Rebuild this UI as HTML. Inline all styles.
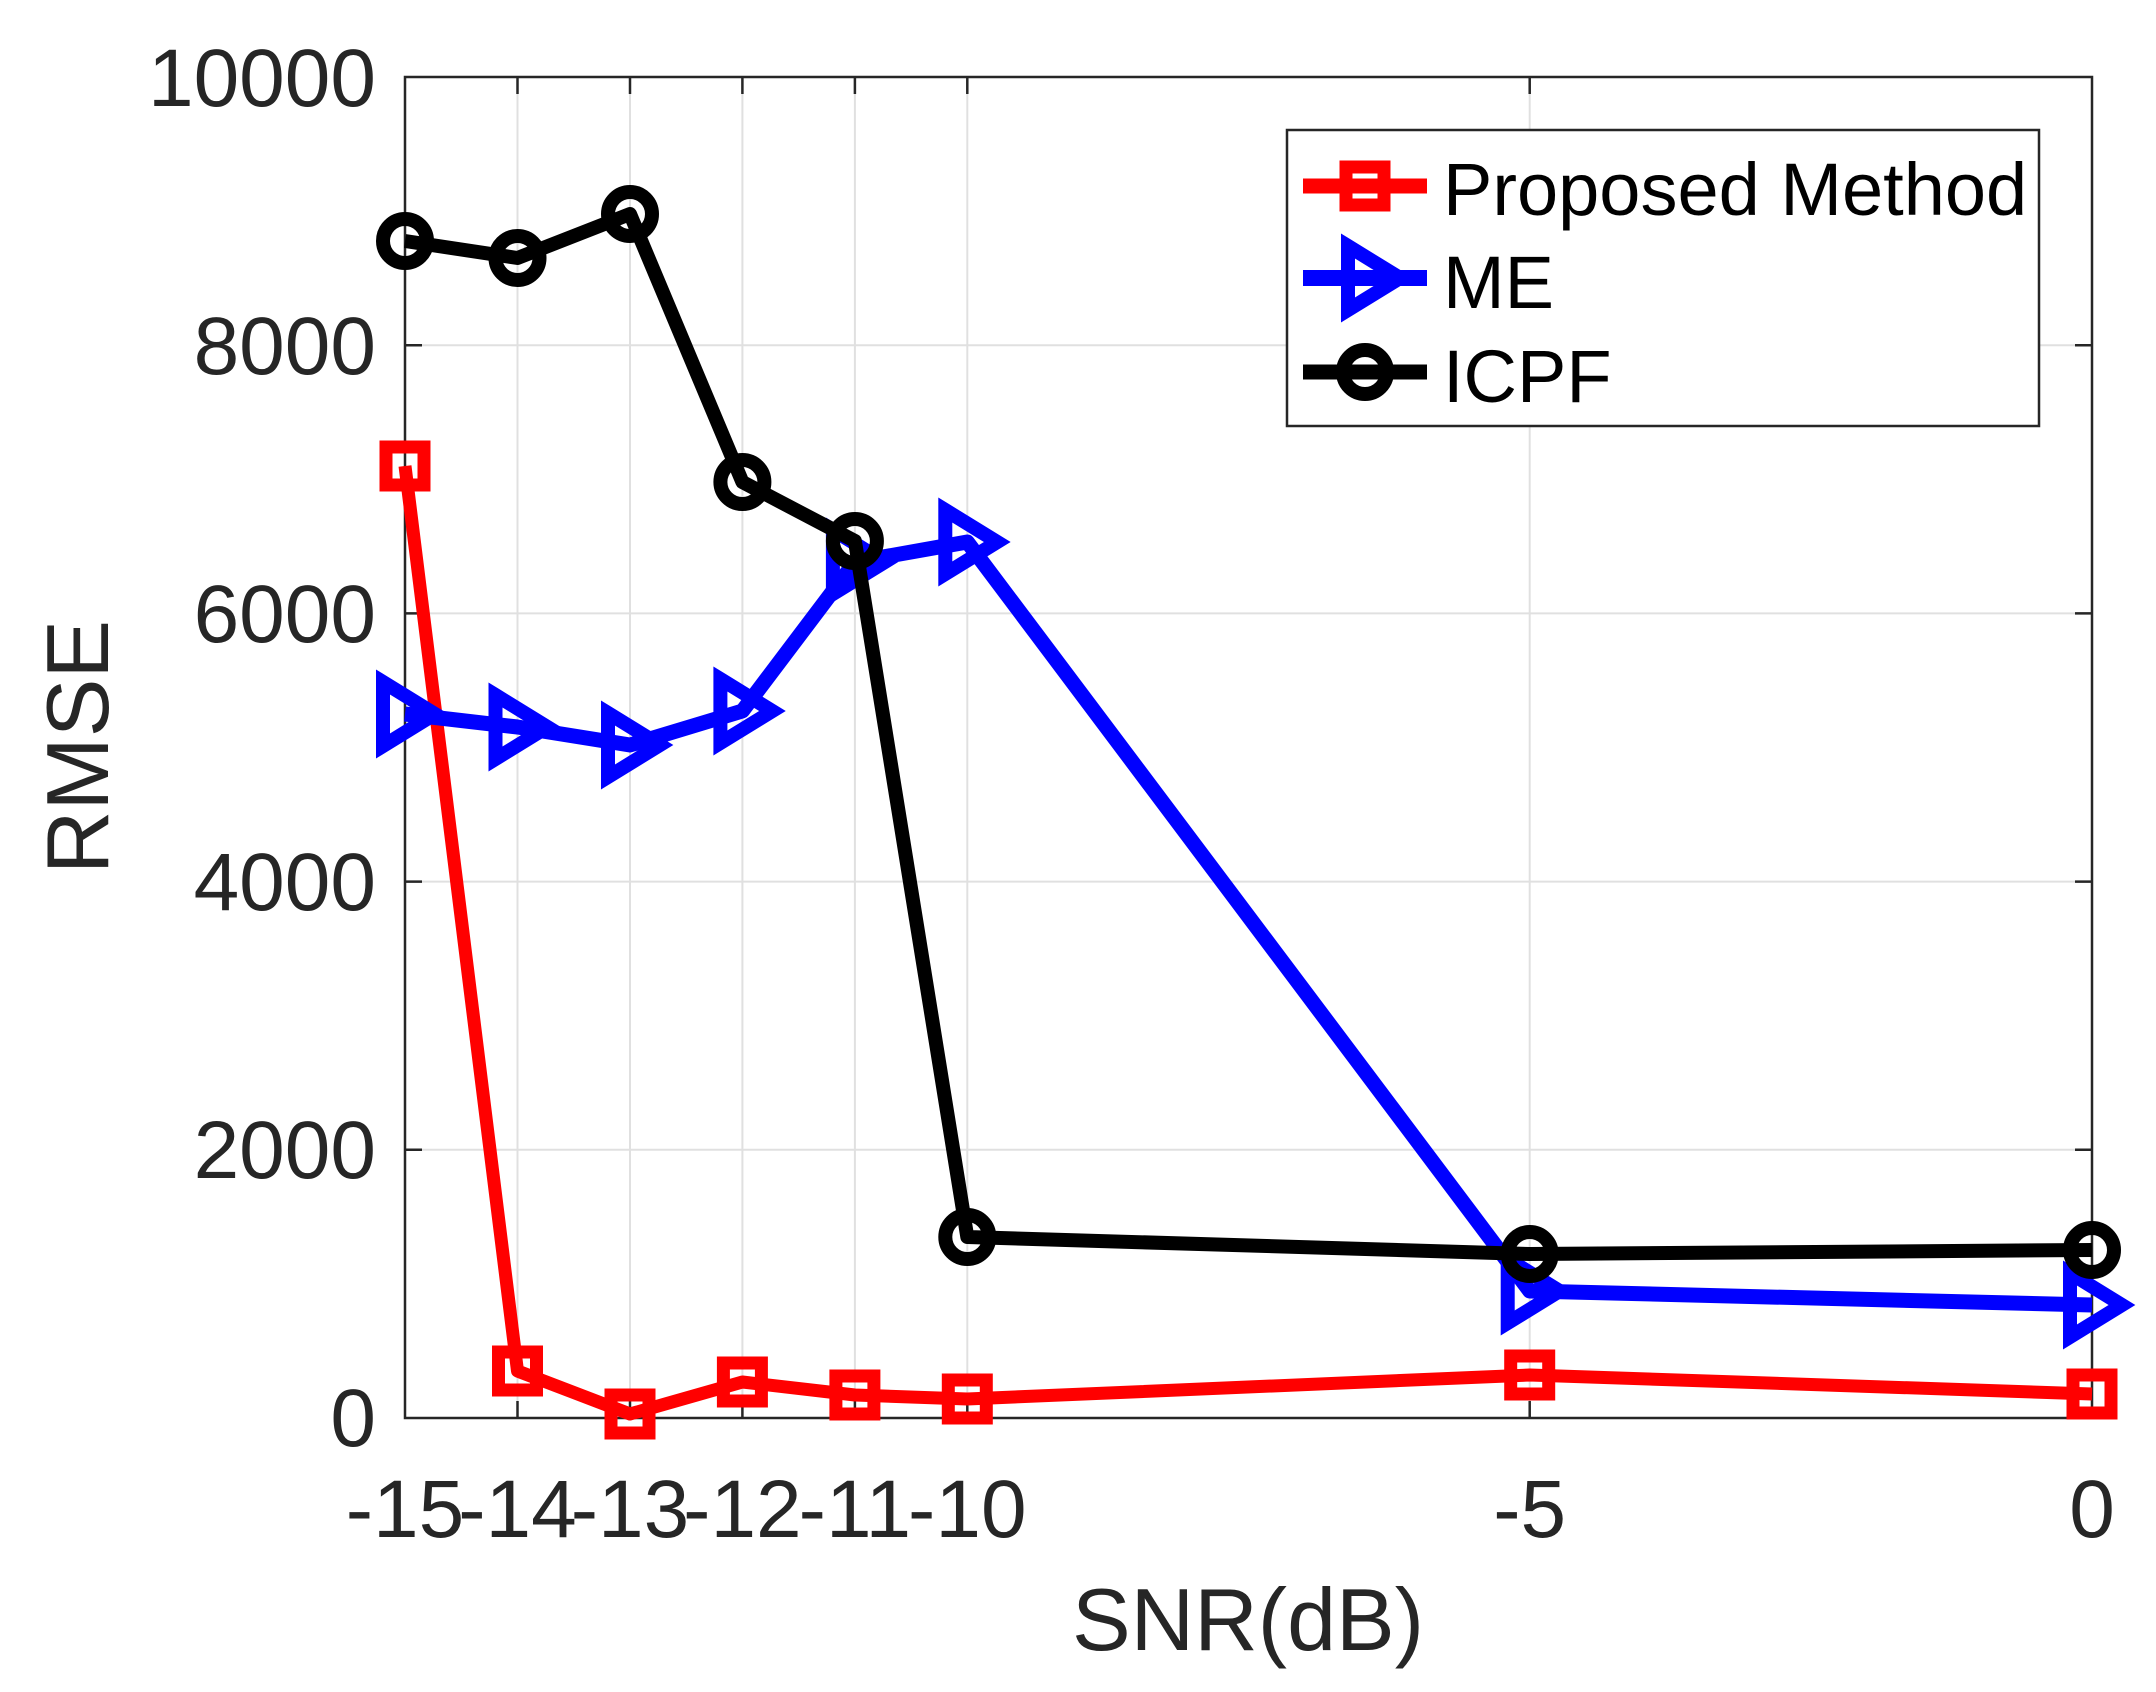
<!DOCTYPE html>
<html><head><meta charset="utf-8"><style>
html,body{margin:0;padding:0;background:#fff;}
svg{display:block;font-family:"Liberation Sans",Arial,sans-serif;}
</style></head><body>
<svg width="2156" height="1692" viewBox="0 0 2156 1692" xmlns="http://www.w3.org/2000/svg">
<rect width="2156" height="1692" fill="#fff"/>
<g stroke="#e0e0e0" stroke-width="2">
<line x1="517.5" y1="77" x2="517.5" y2="1418"/>
<line x1="630" y1="77" x2="630" y2="1418"/>
<line x1="742.4" y1="77" x2="742.4" y2="1418"/>
<line x1="854.9" y1="77" x2="854.9" y2="1418"/>
<line x1="967.3" y1="77" x2="967.3" y2="1418"/>
<line x1="1529.7" y1="77" x2="1529.7" y2="1418"/>
<line x1="405" y1="345.2" x2="2092" y2="345.2"/>
<line x1="405" y1="613.4" x2="2092" y2="613.4"/>
<line x1="405" y1="881.6" x2="2092" y2="881.6"/>
<line x1="405" y1="1149.8" x2="2092" y2="1149.8"/>
</g>
<rect x="405" y="77" width="1687" height="1341" fill="none" stroke="#262626" stroke-width="2.5"/>
<g stroke="#262626" stroke-width="2.5">
<line x1="517.5" y1="1418" x2="517.5" y2="1401"/><line x1="517.5" y1="77" x2="517.5" y2="94"/>
<line x1="630" y1="1418" x2="630" y2="1401"/><line x1="630" y1="77" x2="630" y2="94"/>
<line x1="742.4" y1="1418" x2="742.4" y2="1401"/><line x1="742.4" y1="77" x2="742.4" y2="94"/>
<line x1="854.9" y1="1418" x2="854.9" y2="1401"/><line x1="854.9" y1="77" x2="854.9" y2="94"/>
<line x1="967.3" y1="1418" x2="967.3" y2="1401"/><line x1="967.3" y1="77" x2="967.3" y2="94"/>
<line x1="1529.7" y1="1418" x2="1529.7" y2="1401"/><line x1="1529.7" y1="77" x2="1529.7" y2="94"/>
<line x1="405" y1="345.2" x2="422" y2="345.2"/><line x1="2092" y1="345.2" x2="2075" y2="345.2"/>
<line x1="405" y1="613.4" x2="422" y2="613.4"/><line x1="2092" y1="613.4" x2="2075" y2="613.4"/>
<line x1="405" y1="881.6" x2="422" y2="881.6"/><line x1="2092" y1="881.6" x2="2075" y2="881.6"/>
<line x1="405" y1="1149.8" x2="422" y2="1149.8"/><line x1="2092" y1="1149.8" x2="2075" y2="1149.8"/>
</g>
<g fill="#262626" font-size="82" text-anchor="end">
<text x="376" y="106">10000</text>
<text x="376" y="374">8000</text>
<text x="376" y="642">6000</text>
<text x="376" y="910">4000</text>
<text x="376" y="1178">2000</text>
<text x="376" y="1446">0</text>
</g>
<g fill="#262626" font-size="82" text-anchor="middle">
<text x="405" y="1537">-15</text>
<text x="517.5" y="1537">-14</text>
<text x="630" y="1537">-13</text>
<text x="742.4" y="1537">-12</text>
<text x="854.9" y="1537">-11</text>
<text x="967.3" y="1537">-10</text>
<text x="1529.7" y="1537">-5</text>
<text x="2092" y="1537">0</text>
</g>
<text x="1248" y="1650" font-size="88" fill="#262626" text-anchor="middle">SNR(dB)</text>
<text transform="translate(108,747) rotate(-90)" font-size="88" fill="#262626" text-anchor="middle">RMSE</text>

<polyline fill="none" stroke="#ff0000" stroke-width="13" stroke-linejoin="round" points="405,466 517.5,1371 630,1414 742.4,1382 854.9,1395 967.3,1399 1529.7,1375 2092,1394"/>
<g fill="none" stroke="#ff0000" stroke-width="13">
<rect x="386" y="447" width="38" height="38"/>
<rect x="498.5" y="1352" width="38" height="38"/>
<rect x="611" y="1395" width="38" height="38"/>
<rect x="723.4" y="1363" width="38" height="38"/>
<rect x="835.9" y="1376" width="38" height="38"/>
<rect x="948.3" y="1380" width="38" height="38"/>
<rect x="1510.7" y="1356" width="38" height="38"/>
<rect x="2073" y="1375" width="38" height="38"/>
</g>

<polyline fill="none" stroke="#0000ff" stroke-width="15" stroke-linejoin="round" points="405,714 517.5,727 630,745 742.4,711 854.9,562 967.3,542 1529.7,1291 2092,1305"/>
<g fill="none" stroke="#0000ff" stroke-width="14" stroke-linejoin="miter">
<polygon points="383,682 435,714 383,746"/>
<polygon points="495.5,695 547.5,727 495.5,759"/>
<polygon points="608,713 660,745 608,777"/>
<polygon points="720.4,679 772.4,711 720.4,743"/>
<polygon points="832.9,530 884.9,562 832.9,594"/>
<polygon points="945.3,510 997.3,542 945.3,574"/>
<polygon points="1507.7,1259 1559.7,1291 1507.7,1323"/>
<polygon points="2070,1273 2122,1305 2070,1337"/>
</g>

<polyline fill="none" stroke="#000" stroke-width="14" stroke-linejoin="round" points="405,241 517.5,258 630,214 742.4,482 854.9,541 967.3,1237 1529.7,1254 2092,1250"/>
<g fill="none" stroke="#000" stroke-width="14">
<circle cx="405" cy="241" r="22"/>
<circle cx="517.5" cy="258" r="22"/>
<circle cx="630" cy="214" r="22"/>
<circle cx="742.4" cy="482" r="22"/>
<circle cx="854.9" cy="541" r="22"/>
<circle cx="967.3" cy="1237" r="22"/>
<circle cx="1529.7" cy="1254" r="22"/>
<circle cx="2092" cy="1250" r="22"/>
</g>

<rect x="1287" y="130" width="752" height="296" fill="#fff" stroke="#262626" stroke-width="2.5"/>
<line x1="1303" y1="186" x2="1427" y2="186" stroke="#ff0000" stroke-width="15"/>
<rect x="1346" y="167" width="38" height="38" fill="none" stroke="#ff0000" stroke-width="13"/>
<line x1="1303" y1="278" x2="1427" y2="278" stroke="#0000ff" stroke-width="16"/>
<polygon points="1348,246 1400,278 1348,310" fill="none" stroke="#0000ff" stroke-width="14"/>
<line x1="1303" y1="372" x2="1427" y2="372" stroke="#000" stroke-width="15"/>
<circle cx="1365" cy="372" r="22" fill="none" stroke="#000" stroke-width="14"/>
<g font-size="74" fill="#000">
<text x="1443" y="215">Proposed Method</text>
<text x="1443" y="308">ME</text>
<text x="1443" y="402">ICPF</text>
</g>
</svg>
</body></html>
